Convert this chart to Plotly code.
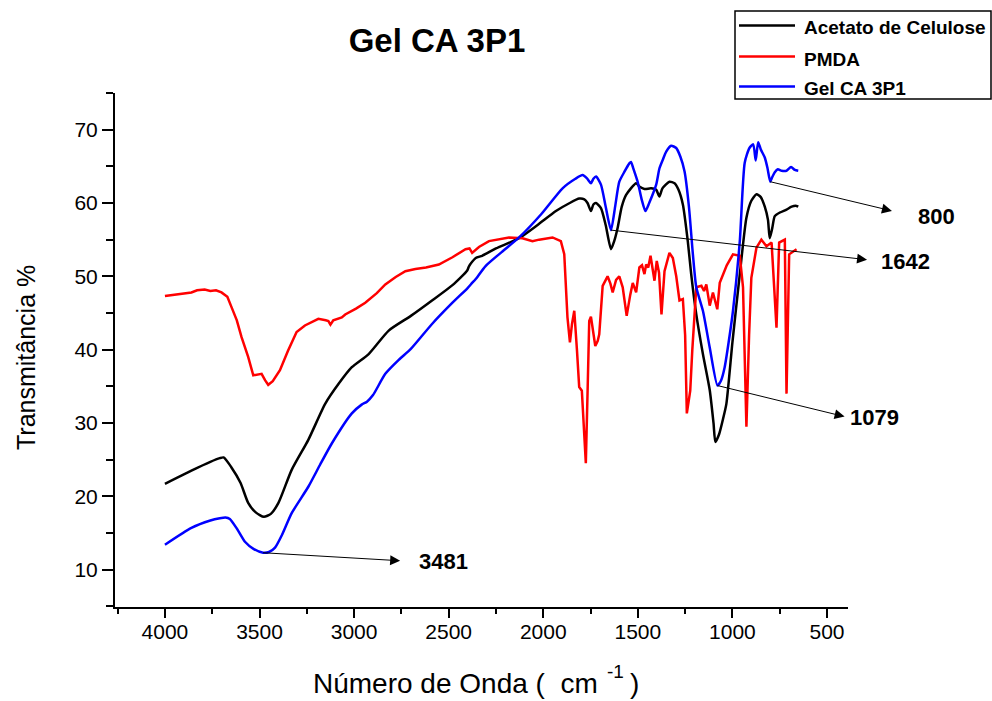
import plotly.graph_objects as go

# ---- FTIR spectra (wavenumber in cm-1, transmittance in %) ----
ca_wn = [4000, 3860, 3760, 3710, 3690, 3650, 3600, 3560, 3520, 3477, 3440, 3400,
         3330, 3242, 3153, 3080, 3012, 2923, 2817, 2700, 2588, 2480, 2402, 2392,
         2357, 2323, 2250, 2128, 2030, 1933, 1860, 1810, 1783, 1766, 1748, 1735,
         1721, 1695, 1670, 1642, 1625, 1607, 1585, 1562, 1509, 1490, 1465, 1430,
         1403, 1386, 1370, 1333, 1306, 1285, 1262, 1236, 1218, 1191, 1156, 1120,
         1100, 1090, 1070, 1050, 1032, 1000, 961, 926, 900, 873, 850, 829, 812,
         803, 790, 776, 749, 714, 687, 661, 652]
ca_t = [21.7, 23.5, 24.7, 25.2, 25.3, 24.0, 21.8, 19.1, 17.8, 17.2, 17.6, 19.1,
        23.6, 27.7, 32.6, 35.4, 37.6, 39.4, 42.6, 44.6, 46.7, 48.8, 50.8, 51.4,
        52.5, 52.8, 53.8, 55.2, 57.0, 58.9, 60.0, 60.6, 60.5, 60.0, 58.9, 59.8,
        60.0, 59.3, 57.0, 53.7, 54.8, 56.6, 59.5, 61.1, 62.7, 62.2, 61.9, 62.0,
        61.8, 60.9, 62.0, 62.9, 62.7, 61.8, 59.8, 54.8, 50.3, 44.8, 39.4, 34.5,
        30.0, 27.4, 28.5, 30.5, 32.6, 41.0, 50.3, 58.0, 60.3, 61.2, 60.8, 59.5, 57.7,
        55.2, 56.5, 58.2, 58.7, 59.1, 59.5, 59.6, 59.5]

pmda_wn = [4000, 3930, 3860, 3830, 3790, 3760, 3730, 3701, 3670, 3648, 3620, 3595,
           3560, 3533, 3510, 3489, 3470, 3454, 3430, 3392, 3350, 3304, 3260, 3189,
           3150, 3136, 3125, 3110, 3065, 3047, 2990, 2941, 2880, 2835, 2780, 2729,
           2676, 2620, 2552, 2480, 2411, 2390, 2376, 2340, 2287, 2181, 2110, 2057,
           2022, 1951, 1907, 1889, 1872, 1859, 1848, 1836, 1822, 1810, 1796, 1785,
           1775, 1765, 1757, 1748, 1738, 1725, 1712, 1704, 1686, 1660, 1645, 1633,
           1615, 1598, 1580, 1559, 1540, 1527, 1509, 1492, 1478, 1465, 1456, 1445,
           1433, 1420, 1412, 1400, 1388, 1375, 1365, 1359, 1333, 1315, 1297, 1280,
           1262, 1250, 1241, 1230, 1223, 1212, 1200, 1191, 1164, 1150, 1138, 1120,
           1103, 1080, 1067, 1030, 997, 961, 944, 926, 912, 900, 873, 847, 820,
           793, 767, 753, 723, 714, 700, 680, 661]
pmda_t = [47.3, 47.6, 47.8, 48.1, 48.2, 48.0, 48.1, 47.8, 47.2, 45.8, 44.0, 41.7,
          39.0, 36.5, 36.6, 36.7, 35.8, 35.2, 35.7, 37.2, 39.8, 42.4, 43.3, 44.2,
          44.0, 43.9, 43.4, 44.0, 44.4, 44.8, 45.6, 46.4, 47.7, 48.9, 49.9, 50.7,
          51.0, 51.2, 51.6, 52.6, 53.7, 53.8, 53.2, 54.0, 54.8, 55.3, 55.2, 54.8,
          55.0, 55.3, 54.8, 53.0, 44.4, 41.0, 43.5, 45.3, 40.0, 34.9, 34.4, 30.0,
          24.5, 35.0, 43.9, 44.5, 42.5, 40.5, 41.2, 42.1, 48.7, 50.0, 49.0, 47.8,
          49.5, 50.0, 48.5, 44.6, 47.5, 49.1, 47.8, 51.2, 51.5, 50.3, 51.6, 51.2,
          52.8, 51.0, 49.4, 52.1, 50.5, 44.8, 49.0, 50.7, 53.2, 52.5, 50.0, 46.7,
          46.9, 42.0, 31.3, 33.0, 34.4, 40.0, 44.8, 48.5, 48.7, 48.0, 48.9, 46.0,
          47.8, 45.5, 49.1, 51.5, 53.0, 52.8, 48.5, 29.5, 41.9, 49.8, 53.9, 55.0, 54.1,
          54.6, 43.0, 54.6, 55.0, 34.0, 53.0, 53.4, 53.7]

gel_wn = [4000, 3860, 3760, 3710, 3680, 3657, 3620, 3577, 3530, 3481, 3450, 3418,
          3380, 3330, 3242, 3180, 3118, 3012, 2960, 2932, 2900, 2835, 2764, 2700,
          2588, 2480, 2400, 2376, 2358, 2305, 2220, 2128, 2010, 1898, 1830, 1792,
          1770, 1748, 1735, 1721, 1695, 1670, 1642, 1620, 1598, 1570, 1545, 1536,
          1525, 1501, 1480, 1460, 1440, 1403, 1386, 1368, 1350, 1324, 1297, 1275,
          1253, 1230, 1209, 1191, 1156, 1120, 1079, 1060, 1041, 1020, 997, 961,
          935, 910, 890, 877, 864, 850, 829, 815, 800, 790, 776, 760, 740, 714,
          690, 670, 652]
gel_t = [13.4, 15.7, 16.7, 17.0, 17.1, 16.9, 15.6, 13.8, 12.8, 12.3, 12.4, 13.0,
         14.8, 17.7, 21.3, 24.3, 27.2, 31.3, 32.5, 32.9, 33.8, 36.7, 38.6, 40.1,
         43.5, 46.4, 48.4, 49.1, 49.6, 51.4, 53.3, 55.3, 58.5, 62.0, 63.3, 63.8,
         63.4, 62.7, 63.3, 63.6, 62.5, 59.5, 56.3, 59.5, 62.9, 64.3, 65.4, 65.6,
         64.8, 62.9, 60.5, 58.9, 60.0, 62.5, 64.7, 65.9, 67.0, 67.8, 67.5, 66.3,
         64.3, 59.5, 53.0, 48.5, 45.3, 40.3, 35.1, 35.8, 37.6, 41.0, 45.3, 54.8,
         65.5, 67.5, 68.0, 65.8, 68.3, 67.3, 66.2, 64.8, 62.9, 63.5, 64.2, 64.6,
         64.4, 64.4, 64.9, 64.5, 64.4]

series_names = ["Acetato de Celulose", "PMDA", "Gel CA 3P1"]
series_colors = ["#000000", "#ff0000", "#0000ff"]
series_shapes = ["spline", "linear", "spline"]

x_ticks = [4000, 3500, 3000, 2500, 2000, 1500, 1000, 500]
y_ticks = [10, 20, 30, 40, 50, 60, 70]

# labelled bands on the Gel CA 3P1 curve
band_labels = ["3481", "1642", "1079", "800"]

# ---- page geometry (pixels) ----
W, H = 992, 701
L, R, T, B = 115, 848, 93, 607
FONT = "Liberation Sans, Arial, sans-serif"


def px(xp):
    return (xp - L) / (R - L)


def py(yp):
    return (B - yp) / (B - T)


def page_text(x, y, text, size, bold=False, xanchor="center", angle=0):
    return dict(x=px(x), y=py(y), xref="paper", yref="paper",
                text="<b>%s</b>" % text if bold else text, showarrow=False,
                xanchor=xanchor, yanchor="middle", textangle=angle,
                font=dict(family=FONT, size=size, color="#000000"))


fig = go.Figure()
for wn, t, name, col, shp in zip([ca_wn, pmda_wn, gel_wn], [ca_t, pmda_t, gel_t],
                                 series_names, series_colors, series_shapes):
    fig.add_trace(go.Scatter(x=wn, y=t, mode="lines", name=name,
                             line=dict(color=col, width=2.5, shape=shp,
                                       smoothing=0.6 if shp == "spline" else None),
                             showlegend=False))

annotations = []
shapes = []

# band labels, each with an arrow running from the band to the label
label_geom = {  # (ax, ay) offset of the label's left edge in px, arrow standoff
    "3481": (154, 9, 17),
    "1642": (268, 31, 12),
    "1079": (131, 32, 4),
    "800": (146, 35, 25),
}
for lab in band_labels:
    wn_val = int(lab)
    idx = gel_wn.index(wn_val)
    ax, ay, so = label_geom[lab]
    annotations.append(dict(x=wn_val, y=gel_t[idx], xref="x", yref="y",
                            ax=ax, ay=ay, text="<b>%s</b>" % lab, showarrow=True,
                            xanchor="left", yanchor="middle",
                            arrowside="start", startarrowhead=2, startarrowsize=2,
                            startstandoff=so, arrowwidth=1, arrowcolor="#000000",
                            font=dict(family=FONT, size=22, color="#000000")))

# axis titles (the x title carries a raised "-1" exponent)
annotations.append(page_text(26, 358, "Transmitância %", 25, angle=-90))
annotations.append(page_text(311, 683, "Número de Onda (  cm", 28, xanchor="left"))
annotations.append(page_text(605, 671, "-1", 19, xanchor="left"))
annotations.append(page_text(628, 683, ")", 28, xanchor="left"))

# legend box
shapes.append(dict(type="rect", xref="paper", yref="paper",
                   x0=px(735), x1=px(991), y0=py(99), y1=py(11),
                   line=dict(color="#000000", width=1.5), fillcolor="rgba(0,0,0,0)"))
for i, (name, col) in enumerate(zip(series_names, series_colors)):
    ly = [25.5, 56.5, 86.5][i]
    shapes.append(dict(type="line", xref="paper", yref="paper",
                       x0=px(739), x1=px(795), y0=py(ly), y1=py(ly),
                       line=dict(color=col, width=2.5)))
    annotations.append(page_text(802, [27.5, 59, 88.3][i], name, 19, bold=True,
                                 xanchor="left"))

axis_common = dict(showline=True, linecolor="#000000", linewidth=2,
                   showgrid=False, zeroline=False, ticks="outside",
                   tickcolor="#000000", tickwidth=2,
                   tickfont=dict(family=FONT, size=21, color="#000000"))

fig.update_layout(
    width=W, height=H, autosize=False,
    margin=dict(l=L, r=W - R, t=T, b=H - B, pad=0),
    paper_bgcolor="#ffffff", plot_bgcolor="#ffffff",
    title=dict(text="<b>Gel CA 3P1</b>", x=px(437), xref="paper", xanchor="center",
               y=1 - 40 / H, yref="container", yanchor="middle",
               font=dict(family=FONT, size=33, color="#000000")),
    xaxis=dict(range=[4264, 389], tickvals=x_ticks, ticklen=9,
               ticklabelstandoff=-4,
               minor=dict(dtick=250, tick0=0, ticks="outside", ticklen=5,
                          tickwidth=2, tickcolor="#000000"),
               **axis_common),
    yaxis=dict(range=[4.9, 75], tickvals=y_ticks, ticklen=11,
               minor=dict(dtick=5, tick0=0, ticks="outside", ticklen=7,
                          tickwidth=2, tickcolor="#000000"),
               **axis_common),
    annotations=annotations,
    shapes=shapes,
    showlegend=False,
)

fig.write_html("out.html")
